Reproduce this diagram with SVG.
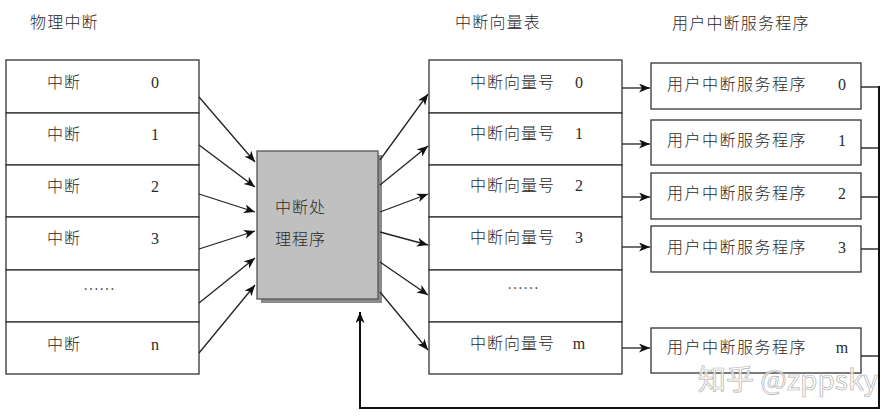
<svg xmlns="http://www.w3.org/2000/svg" width="893" height="418" viewBox="0 0 893 418">
<defs>
<style>
.cell{fill:#fff;stroke:#333;stroke-width:1.3}
.cjk{font-family:"Noto Sans CJK SC","Noto Sans",sans-serif;font-size:16px;font-weight:300;fill:#2a2a2a;letter-spacing:1px}
.num{font-family:"Liberation Serif","DejaVu Serif",serif;font-size:16px;fill:#2a2a2a;text-anchor:middle}
.title{font-family:"Noto Sans CJK SC","Noto Sans",sans-serif;font-size:16px;font-weight:300;fill:#2a2a2a;letter-spacing:1.2px}
.arr{stroke:#222;stroke-width:1.3;fill:none;marker-end:url(#ah)}
.bus{stroke:#111;fill:none}
</style>
<marker id="ah" markerUnits="userSpaceOnUse" markerWidth="12" markerHeight="10" refX="11" refY="4.5" orient="auto" viewBox="0 0 12 10">
<path d="M0,0 L11,4.5 L0,9 L3,4.5 z" fill="#111"/>
</marker>
</defs>
<rect width="893" height="418" fill="#fff"/>

<g id="titles">
<text class="title" x="30" y="28">物理中断</text>
<text class="title" x="455" y="28">中断向量表</text>
<text class="title" x="672" y="29">用户中断服务程序</text>
</g>

<g id="physical-table">
<g id="irq0"><rect class="cell" x="6" y="60" width="193" height="53"/><text class="cjk" x="47" y="88">中断</text><text class="num" x="155" y="88">0</text></g>
<g id="irq1"><rect class="cell" x="6" y="113" width="193" height="52"/><text class="cjk" x="47" y="140">中断</text><text class="num" x="155" y="140">1</text></g>
<g id="irq2"><rect class="cell" x="6" y="165" width="193" height="52"/><text class="cjk" x="47" y="192">中断</text><text class="num" x="155" y="192">2</text></g>
<g id="irq3"><rect class="cell" x="6" y="217" width="193" height="53"/><text class="cjk" x="47" y="244">中断</text><text class="num" x="155" y="244">3</text></g>
<g id="irq-dots"><rect class="cell" x="6" y="270" width="193" height="52"/><text class="cjk" x="83" y="295" style="letter-spacing:0">……</text></g>
<g id="irqn"><rect class="cell" x="6" y="322" width="193" height="52"/><text class="cjk" x="47" y="350">中断</text><text class="num" x="155" y="350">n</text></g>
</g>

<g id="handler">
<rect x="261" y="155" width="121" height="148" fill="#8a8a8a"/>
<rect x="257" y="151" width="121" height="148" fill="#c0c0c0" stroke="#555" stroke-width="1.3"/>
<text class="cjk" x="275" y="213">中断处</text>
<text class="cjk" x="275" y="245">理程序</text>
</g>

<g id="vector-table">
<g id="vec0"><rect class="cell" x="429" y="60" width="193" height="53"/><text class="cjk" x="470" y="88">中断向量号</text><text class="num" x="579" y="88">0</text></g>
<g id="vec1"><rect class="cell" x="429" y="113" width="193" height="52"/><text class="cjk" x="470" y="139">中断向量号</text><text class="num" x="579" y="139">1</text></g>
<g id="vec2"><rect class="cell" x="429" y="165" width="193" height="52"/><text class="cjk" x="470" y="191">中断向量号</text><text class="num" x="579" y="191">2</text></g>
<g id="vec3"><rect class="cell" x="429" y="217" width="193" height="53"/><text class="cjk" x="470" y="243">中断向量号</text><text class="num" x="579" y="243">3</text></g>
<g id="vec-dots"><rect class="cell" x="429" y="270" width="193" height="52"/><text class="cjk" x="507" y="294" style="letter-spacing:0">……</text></g>
<g id="vecm"><rect class="cell" x="429" y="322" width="193" height="52"/><text class="cjk" x="470" y="349">中断向量号</text><text class="num" x="579" y="349">m</text></g>
</g>

<g id="isr0"><rect class="cell" x="651" y="63" width="210" height="46"/><text class="cjk" x="667" y="90" style="letter-spacing:1.5px">用户中断服务程序</text><text class="num" x="842" y="90">0</text></g>
<g id="isr1"><rect class="cell" x="651" y="120" width="210" height="45"/><text class="cjk" x="667" y="146" style="letter-spacing:1.5px">用户中断服务程序</text><text class="num" x="842" y="146">1</text></g>
<g id="isr2"><rect class="cell" x="651" y="173" width="210" height="46"/><text class="cjk" x="667" y="199" style="letter-spacing:1.5px">用户中断服务程序</text><text class="num" x="842" y="199">2</text></g>
<g id="isr3"><rect class="cell" x="651" y="226" width="210" height="46"/><text class="cjk" x="667" y="253" style="letter-spacing:1.5px">用户中断服务程序</text><text class="num" x="842" y="253">3</text></g>
<g id="isrm"><rect class="cell" x="651" y="328" width="210" height="45"/><text class="cjk" x="667" y="353" style="letter-spacing:1.5px">用户中断服务程序</text><text class="num" x="842" y="353">m</text></g>

<g id="connectors">
<line class="arr" x1="199" y1="97" x2="255" y2="162"/>
<line class="arr" x1="199" y1="145" x2="255" y2="187"/>
<line class="arr" x1="199" y1="194" x2="255" y2="212"/>
<line class="arr" x1="199" y1="249" x2="255" y2="231"/>
<line class="arr" x1="199" y1="303" x2="255" y2="258"/>
<line class="arr" x1="199" y1="353" x2="255" y2="285"/>

<line class="arr" x1="380" y1="160" x2="428" y2="94"/>
<line class="arr" x1="380" y1="185" x2="428" y2="146"/>
<line class="arr" x1="380" y1="212" x2="428" y2="194"/>
<line class="arr" x1="380" y1="232" x2="428" y2="245"/>
<line class="arr" x1="380" y1="262" x2="428" y2="295"/>
<line class="arr" x1="380" y1="292" x2="428" y2="350"/>

<line class="arr" x1="622" y1="88" x2="650" y2="88"/>
<line class="arr" x1="622" y1="144" x2="650" y2="144"/>
<line class="arr" x1="622" y1="197" x2="650" y2="197"/>
<line class="arr" x1="622" y1="247" x2="650" y2="247"/>
<line class="arr" x1="622" y1="348" x2="650" y2="348"/>

<g class="bus" stroke-width="1.3">
<line x1="861" y1="87" x2="879" y2="87"/>
<line x1="861" y1="148" x2="879" y2="148"/>
<line x1="861" y1="197" x2="879" y2="197"/>
<line x1="861" y1="249" x2="879" y2="249"/>
<line x1="861" y1="356" x2="879" y2="356"/>
</g>
<polyline class="bus" stroke-width="2" points="879,86 879,408 360,408 360,312" marker-end="url(#ah)"/>
</g>

<g id="watermark">
<text x="698" y="390" font-family="'Noto Sans CJK SC','Noto Sans',sans-serif" font-size="28" fill="#fff" fill-opacity="0.75" stroke="#b0b0b0" stroke-width="0.7">知乎 @zppsky</text>
</g>
</svg>
